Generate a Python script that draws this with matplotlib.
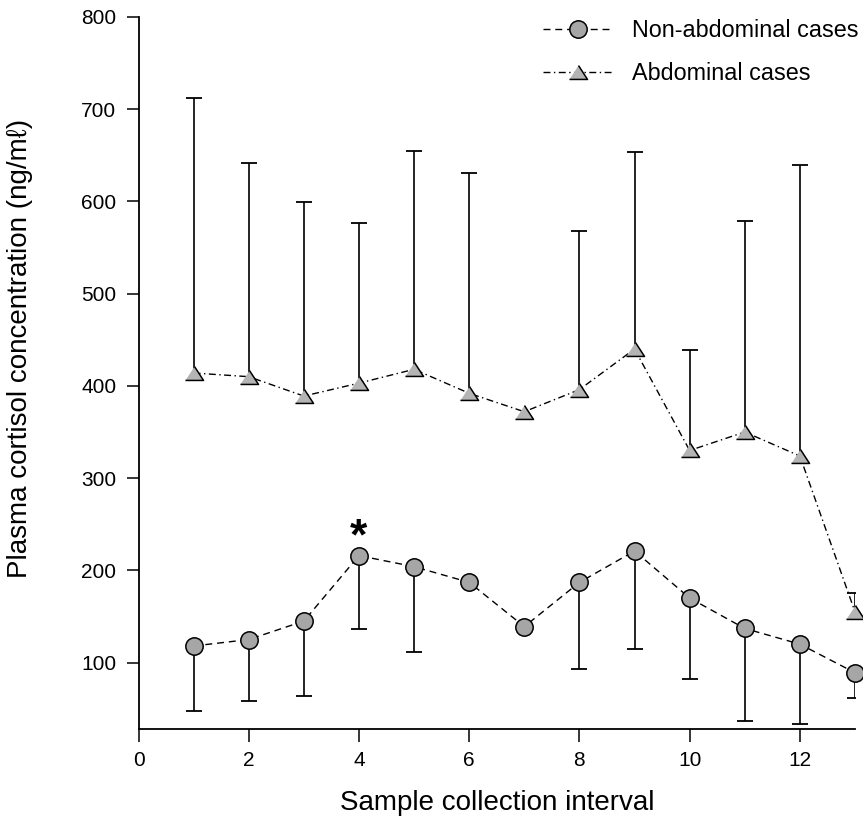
"""Plasma cortisol by sample collection interval: non-abdominal vs abdominal cases."""
import numpy as np
import matplotlib

matplotlib.use("Agg")
import matplotlib.pyplot as plt

plt.rcParams["font.family"] = ["Liberation Sans", "DejaVu Sans"]

# Values
intervals = np.arange(1, 14)
non_abd_mean = [118, 125, 145, 216, 204, 187, 139, 187, 221, 170, 137, 120, 89]
non_abd_lower = [47, 58, 64, 136, 111, np.nan, np.nan, 93, 115, 82, 37, 33, 62]
abd_mean = [414, 410, 389, 403, 418, 392, 372, 396, 440, 330, 350, 324, 155]
abd_upper = [712, 642, 599, 577, 655, 631, np.nan, 568, 654, 439, 579, 640, 176]
signif_interval = 4
signif_y = 240

x_ticks = [0, 2, 4, 6, 8, 10, 12]
y_ticks = [100, 200, 300, 400, 500, 600, 700, 800]

W, H = 863, 816
fig = plt.figure(figsize=(W / 100, H / 100), dpi=100)
ax = fig.add_axes([138.5 / W, 87 / H, (855 - 138.5) / W, (799 - 87) / H])

tri = [(-1.3, -1.0), (1.3, -1.0), (0.0, 1.0)]

# error bars: one-sided, drawn as stems with caps
ax.vlines(intervals, non_abd_lower, non_abd_mean, color="black", lw=1.2, zorder=2)
ax.plot(intervals, non_abd_lower, ls="none", marker="_", ms=12, mew=1.3, color="black", zorder=2)
ax.vlines(intervals, abd_mean, abd_upper, color="black", lw=1.2, zorder=2)
ax.plot(intervals, abd_upper, ls="none", marker="_", ms=12, mew=1.3, color="black", zorder=2)

(l1,) = ax.plot(intervals, non_abd_mean, color="black", lw=1.0, dashes=(5, 3.5),
                marker="o", ms=12.5, mfc="#a6a6a6", mec="black", mew=1.1,
                label="Non-abdominal cases", zorder=3, clip_on=False)
(l2,) = ax.plot(intervals, abd_mean, color="black", lw=1.0, dashes=(5, 2.5, 1, 2.5),
                marker=tri, ms=13, mfc="#b4b4b4", mec="black", mew=1.1,
                label="Abdominal cases", zorder=3, clip_on=False)

ax.text(signif_interval, signif_y, "*", ha="center", va="center_baseline",
        fontsize=32, fontweight="bold")

ax.set_xlim(0, 13)
ax.set_ylim(28, 800)
ax.set_xticks(x_ticks)
ax.set_yticks(y_ticks)
ax.tick_params(direction="out", length=9, width=1.1, labelsize=15, pad=7)
for side in ("top", "right"):
    ax.spines[side].set_visible(False)
for side in ("left", "bottom"):
    ax.spines[side].set_linewidth(1.3)

ax.set_xlabel("Sample collection interval", fontsize=20, labelpad=14)
ax.set_ylabel("Plasma cortisol concentration (ng/m\u2113)", fontsize=20)
ax.yaxis.set_label_coords(-0.147, 0.535)

ax.legend(handles=[l1, l2], loc="upper left", bbox_to_anchor=(543 / W, 1 - 19 / H),
          bbox_transform=fig.transFigure, frameon=False, fontsize=16.8, numpoints=1,
          handlelength=3.0, handletextpad=0.8, labelspacing=0.85,
          borderpad=0, borderaxespad=0)

fig.savefig("out.png", dpi=100)
